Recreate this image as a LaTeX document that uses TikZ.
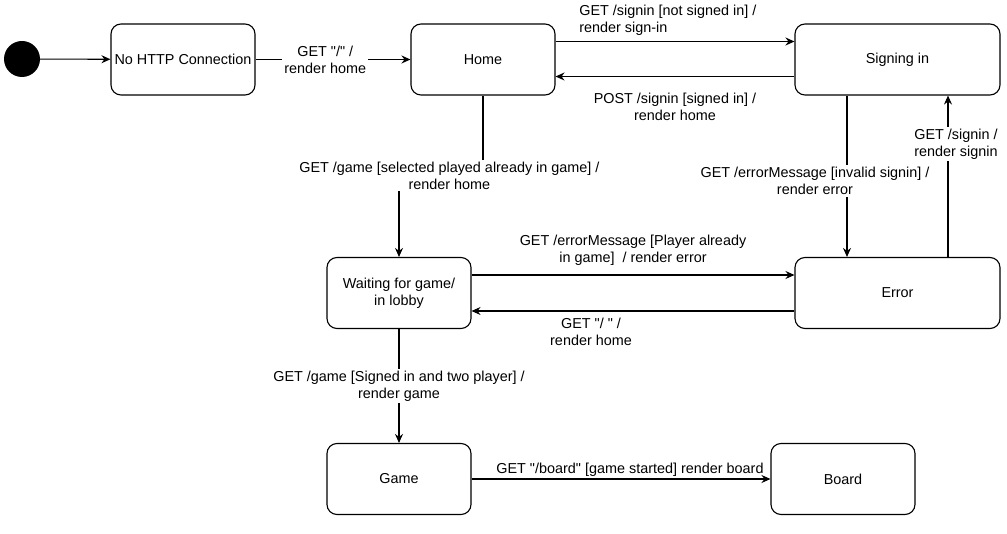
\documentclass[tikz,border=0pt]{standalone}
\usepackage{fontspec}
\setmainfont{Liberation Sans}
\usetikzlibrary{arrows.meta}

\begin{document}
\begin{tikzpicture}[
  x=1pt, y=-1pt,
  font=\fontsize{14.4}{17}\selectfont,
  state/.style={
    draw=black,
    line width=1.1pt,
    rounded corners=10pt,
    fill=white,
    align=center,
    minimum height=71pt,
    minimum width=144pt,
    inner sep=2pt
  },
  wide/.style={minimum width=205pt},
  startdot/.style={circle, fill=black, minimum size=36pt, inner sep=0pt},
  guard/.style={align=center, inner sep=2pt},
  flow/.style={-{Stealth[length=9pt,width=8pt,inset=3pt]}, line width=1.1pt, draw=black}
]
  \useasboundingbox (0,0) rectangle (1007,534);

  \node[startdot] (start) at (22,59) {};
  \node[state] (nohttp) at (183,59.5) {No HTTP Connection};
  \node[state] (home) at (483,59.5) {Home};
  \node[state, wide] (signin) at (897.5,59.5) {Signing in};
  \node[state] (lobby) at (399,293) {Waiting for game/\\in lobby};
  \node[state, wide] (error) at (897.5,293) {Error};
  \node[state] (game) at (399,479) {Game};
  \node[state] (board) at (843,479) {Board};

  \draw[flow] (start) -- (nohttp);
  \draw[flow] (nohttp) -- node[guard, fill=white, pos=0.45] {GET \textquotedbl/\textquotedbl{} /\\render home} (home);
  \draw[flow] ([yshift=18]home.east) -- node[guard, above, align=left, pos=0.47, yshift=3] {GET /signin [not signed in] /\\render sign-in} ([yshift=18]signin.west);
  \draw[flow] ([yshift=-17]signin.west) -- node[guard, below, yshift=-14] {POST /signin [signed in] /\\render home} ([yshift=-17]home.east);
  \draw[flow] (home.south) -- ++(0,80) -- node[guard, fill=white, pos=0.4] {GET /game [selected played already in game] /\\render home} ++(-84,0) -- (lobby.north);
  \draw[flow] ([xshift=-50.5]signin.south) -- node[guard, fill=white, pos=0.53, xshift=-32] {GET /errorMessage [invalid signin] /\\render error} ([xshift=-50.5]error.north);
  \draw[flow] ([xshift=50.5]error.north) -- node[guard, fill=white, align=left, pos=0.7, xshift=8] {GET /signin /\\render signin} ([xshift=50.5]signin.south);
  \draw[flow] ([yshift=18]lobby.east) -- node[guard, above, yshift=7] {GET /errorMessage [Player already\\in game]~~/ render error} ([yshift=18]error.west);
  \draw[flow] ([yshift=-18]error.west) -- node[guard, below, pos=0.63, yshift=-5] {GET \textquotedbl/ \textquotedbl{} /\\render home} ([yshift=-18]lobby.east);
  \draw[flow] (lobby.south) -- node[guard, fill=white] {GET /game [Signed in and two player] /\\render game} (game.north);
  \draw[flow] (game) -- node[guard, above, pos=0.53] {GET \textquotedbl/board\textquotedbl{} [game started] render board} (board);
\end{tikzpicture}
\end{document}
